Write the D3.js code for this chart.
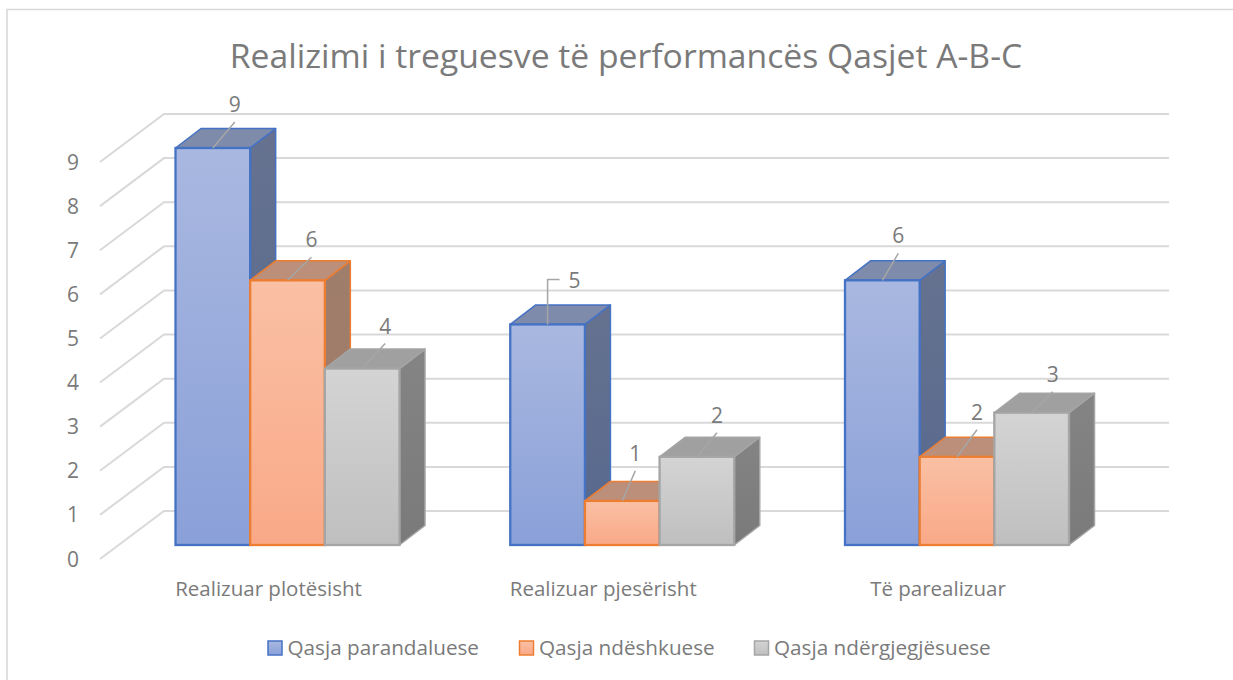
<!DOCTYPE html>
<html><head><meta charset="utf-8">
<script src="https://cdn.jsdelivr.net/npm/d3@7/dist/d3.min.js"></script>
<style>html,body{margin:0;padding:0;background:#fff}svg{display:block}text{font-family:"Open Sans",sans-serif}</style>
</head><body><svg id="c" width="1233" height="680"></svg>
<script>
const titleText = "Realizimi i treguesve të performancës Qasjet A-B-C";
const categories = ["Realizuar plotësisht", "Realizuar pjesërisht", "Të parealizuar"];
const seriesNames = ["Qasja parandaluese", "Qasja ndëshkuese", "Qasja ndërgjegjësuese"];
const parandaluese = [9, 5, 6];
const ndeshkuese = [6, 1, 2];
const ndergjegjesuese = [4, 2, 3];
const yTicks = [0,1,2,3,4,5,6,7,8,9];
const seriesValues = [parandaluese, ndeshkuese, ndergjegjesuese];

const svg = d3.select("#c");
const textCol = "#7a7a7a", gridCol = "#d9d9d9";
const pal = [
 {stroke:"#4472c4", top:"#a9b8e0", bot:"#8aa0d8", side:"#66728f", side2:"#56688f", roof:"#7f8bab"},
 {stroke:"#ed7d31", top:"#fac0a4", bot:"#f9a987", side:"#a07e6c", side2:"#a07a66", roof:"#bb8f79"},
 {stroke:"#a5a5a5", top:"#d4d4d4", bot:"#bfbfbf", side:"#848484", side2:"#7a7a7a", roof:"#a0a0a0"}
];
const defs = svg.append("defs");
pal.forEach((p,i)=>{
  const g = defs.append("linearGradient").attr("id","g"+i).attr("x1",0).attr("y1",0).attr("x2",0).attr("y2",1);
  g.append("stop").attr("offset","0%").attr("stop-color",p.top);
  g.append("stop").attr("offset","100%").attr("stop-color",p.bot);
  const s = defs.append("linearGradient").attr("id","s"+i).attr("x1",0).attr("y1",0).attr("x2",0).attr("y2",1);
  s.append("stop").attr("offset","0%").attr("stop-color",p.side);
  s.append("stop").attr("offset","100%").attr("stop-color",p.side2);
});

// frame: only the top and left edges are inside the picture
svg.append("path").attr("d","M7,680V9.5H1233").attr("fill","none").attr("stroke","#d9d9d9").attr("stroke-width",1.6);

svg.append("text").attr("x",626).attr("y",68).attr("text-anchor","middle").attr("font-size",33.7).attr("fill",textCol).text(titleText);

const y = d3.scaleLinear().domain([0,9]).range([545,148]);
const wallLeft = 100, wallBack = 164, gridRight = 1169, frontDrop = 14, backRise = 34;
const gridG = svg.append("g");
yTicks.forEach(t=>{
  const py = y(t)+frontDrop, by = y(t)-backRise;
  gridG.append("path").attr("d",d3.line()([[wallLeft,py],[wallBack,by],[gridRight,by]]))
    .attr("fill","none").attr("stroke",gridCol).attr("stroke-width",2);
  svg.append("text").attr("x",73).attr("y",py+7.5).attr("text-anchor","middle").attr("font-size",21).attr("fill",textCol).text(t);
});

const x0 = d3.scalePoint().domain(categories).range([175.5,845]);
const x1 = d3.scaleBand().domain(seriesNames).range([0,224]);
const depthX = 25.5, depthY = -19.5;
const bars = svg.append("g");
categories.forEach((c,ci)=>{
  seriesNames.forEach((s,si)=>{
    const v = seriesValues[si][ci];
    const bx = x0(c)+x1(s), w = x1.bandwidth(), ty = y(v), by = y(0), p = pal[si];
    const g = bars.append("g");
    const line = d3.line();
    g.append("path").attr("d",line([[bx+w,ty],[bx+w+depthX,ty+depthY],[bx+w+depthX,by+depthY],[bx+w,by]])+"Z")
      .attr("fill",`url(#s${si})`).attr("stroke", p.stroke).attr("stroke-width",1.5).attr("stroke-linejoin","round");
    g.append("path").attr("d",line([[bx,ty],[bx+depthX,ty+depthY],[bx+w+depthX,ty+depthY],[bx+w,ty]])+"Z")
      .attr("fill",p.roof).attr("stroke",p.stroke).attr("stroke-width",1.5).attr("stroke-linejoin","round");
    g.append("rect").attr("x",bx).attr("y",ty).attr("width",w).attr("height",by-ty)
      .attr("fill",`url(#g${si})`).attr("stroke",p.stroke).attr("stroke-width",2.3);
  });
});
// leader end offsets from the bar's top-centre, by [category][series]
const leaderEnds = [
  [[22,-26],[24,-23],[23,-25]],
  [null,[13,-30],[20,-24]],
  [[16,-27],[20,-27],[21,-21]]
];
categories.forEach((c,ci)=>{
  seriesNames.forEach((s,si)=>{
    const v = seriesValues[si][ci];
    const cx = x0(c)+x1(s)+x1.bandwidth()/2, ty = y(v);
    const end = leaderEnds[ci][si];
    let pts, lab;
    if(end){
      pts = [[cx,ty],[cx+end[0],ty+end[1]]];
      lab = [cx+end[0],ty+end[1]-10];
    } else {
      pts = [[cx,ty],[cx,ty-45],[cx+12,ty-45]];
      lab = [cx+27,ty-36];
    }
    svg.append("path").attr("d",d3.line()(pts)).attr("fill","none").attr("stroke","#a6a6a6").attr("stroke-width",1.5);
    svg.append("text").attr("x",lab[0]).attr("y",lab[1]).attr("text-anchor","middle").attr("font-size",21).attr("fill",textCol).text(v);
  });
  svg.append("text").attr("x",x0(c)+93).attr("y",596).attr("text-anchor","middle").attr("font-size",20.5).attr("fill",textCol).text(c);
});
// legend
const legendBoxX = d3.scaleOrdinal().domain(seriesNames).range([268,519.5,754.5]);
seriesNames.forEach((s,i)=>{
  const bx = legendBoxX(s);
  svg.append("rect").attr("x",bx).attr("y",641).attr("width",14).attr("height",14).attr("fill",`url(#g${i})`).attr("stroke",pal[i].stroke).attr("stroke-width",1.5);
  svg.append("text").attr("x",bx+19.5).attr("y",655).attr("font-size",20.7).attr("fill",textCol).text(s);
});
</script></body></html>
